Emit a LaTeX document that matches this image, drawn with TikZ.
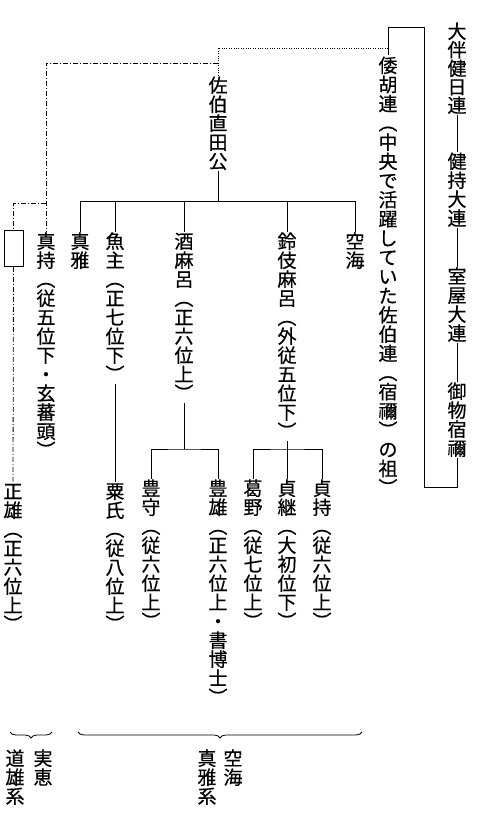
\documentclass[tikz,border=0pt]{standalone}
\usepackage{fontspec}
\newfontfamily\cjk[FakeBold=0.5]{Noto Sans CJK JP}
\usetikzlibrary{decorations.pathreplacing}
\newdimen\vtpitch
\vtpitch=19pt
\def\vtloop#1{\ifx\relax#1\else\vtitem{#1}\expandafter\vtloop\fi}
\newcommand\vtitem[1]{\hbox to 20pt{\hss\vrule width0pt height \dimexpr 0.5\vtpitch+7.22pt\relax depth \dimexpr 0.5\vtpitch-7.22pt\relax #1\hss}}
\newcommand\vt[2][19pt]{\vbox{\offinterlineskip\vtpitch=#1\relax\vtloop#2\relax}}
\tikzset{
  vtext/.style={inner sep=0pt, anchor=north, font=\cjk\fontsize{19}{19}\selectfont},
  rel/.style={line width=0.8pt},
  dotrel/.style={line width=0.8pt, dash pattern=on 0.8pt off 1.6pt},
  ddrel/.style={line width=0.8pt, dash pattern=on 5pt off 2pt on 1pt off 2pt},
  bracestyle/.style={line width=0.8pt, decorate, decoration={brace, amplitude=6pt}},
  unknownbox/.style={draw, line width=0.8pt, minimum width=19pt, minimum height=36pt, inner sep=0pt, anchor=north}
}
\begin{document}
\begin{tikzpicture}[x=1pt,y=-1pt]
\useasboundingbox (0,0) rectangle (480,816);
\fill[white] (0,0) rectangle (480,816);
% right column
\node[vtext] (n1) at (457,21.8) {\vt[18.5pt]{大伴健日連}};
\node[vtext] (n2) at (457,151.5) {\vt{健持大連}};
\node[vtext] (n3) at (457,266.5) {\vt{室屋大連}};
\node[vtext] (n4) at (457,381.5) {\vt{御物宿禰}};
\node[vtext] (gohu) at (388,55.5) {\vt[19.2pt]{倭胡連︵中央で活躍していた佐伯連︵宿禰︶の祖︶}};
\node[vtext] (sahaku) at (218,75.5) {\vt{佐伯直田公}};
\node[vtext] (masamochi) at (46,231.5) {\vt{真持︵従五位下・玄蕃頭︶}};
\node[unknownbox] (unk) at (13.5,230) {};
\node[vtext] (shinga) at (80,231.5) {\vt{真雅}};
\node[vtext] (uoshu) at (115,231.5) {\vt{魚主︵正七位下︶}};
\node[vtext] (sake) at (184,231.5) {\vt{酒麻呂︵正六位上︶}};
\node[vtext] (suzu) at (287,231.5) {\vt{鈴伎麻呂︵外従五位下︶}};
\node[vtext] (kukai) at (355,231.5) {\vt{空海}};
\node[vtext] (masao) at (13,481.5) {\vt{正雄︵正六位上︶}};
\node[vtext] (awa) at (115,481.5) {\vt{粟氏︵従八位上︶}};
\node[vtext] (toyomori) at (151,478.5) {\vt{豊守︵従六位上︶}};
\node[vtext] (toyoo) at (218,478.5) {\vt{豊雄︵正六位上・書博士︶}};
\node[vtext] (kadono) at (253,478.5) {\vt{葛野︵従七位上︶}};
\node[vtext] (sadatsugu) at (287,478.5) {\vt{貞継︵大初位下︶}};
\node[vtext] (sadamochi) at (322,478.5) {\vt{貞持︵従六位上︶}};
\node[vtext] (jitsue) at (43,748.5) {\vt{実恵}};
\node[vtext] (michio) at (15,748.5) {\vt{道雄系}};
\node[vtext] (kukai2) at (233,748.5) {\vt{空海}};
\node[vtext] (shingakei) at (207,748.5) {\vt{真雅系}};
% coordinates
\coordinate (bbl) at (424,487);
\coordinate (btl) at (424,27);
\coordinate (dj) at (388,48);
\coordinate (dd) at (218,63);
\coordinate (dd2) at (46,203);
\coordinate (barL) at (80,201);
\coordinate (barR) at (355,201);
\coordinate (sj) at (218,201);
\coordinate (sbar) at (184,449);
\coordinate (zbar) at (287,449);
\coordinate (brA1) at (52,732);
\coordinate (brA2) at (10,732);
\coordinate (brB1) at (362,732);
\coordinate (brB2) at (78,732);
% right lineage
\draw[rel] (n1.south) -- (n2.north);
\draw[rel] (n2.south) -- (n3.north);
\draw[rel] (n3.south) -- (n4.north);
\draw[rel] (n4.south) |- (bbl) -- (btl) -| (gohu.north);
% dotted and dash-dotted links
\draw[dotrel] (dj) -| (sahaku.north);
\draw[ddrel] (dd) -| (masamochi.north);
\draw[ddrel] (dd2) -| (unk.north);
\draw[ddrel] (unk.south) -- (masao.north);
% sahaku children
\draw[rel] (sahaku.south) -- (sj);
\draw[rel] (barL) -- (barR);
\draw[rel] (shinga.north) -- (barL);
\draw[rel] (uoshu.north) -- (uoshu.north |- barL);
\draw[rel] (sake.north) -- (sake.north |- barL);
\draw[rel] (suzu.north) -- (suzu.north |- barL);
\draw[rel] (kukai.north) -- (barR);
% grandchildren
\draw[rel] (uoshu.south) -- (awa.north);
\draw[rel] (sake.south) -- (sbar);
\draw[rel] (toyomori.north) |- (sbar) -| (toyoo.north);
\draw[rel] (suzu.south) -- (sadatsugu.north);
\draw[rel] (kadono.north) |- (zbar) -| (sadamochi.north);
% braces
\draw[bracestyle] (brA1) -- (brA2);
\draw[bracestyle] (brB1) -- (brB2);
\end{tikzpicture}
\end{document}
